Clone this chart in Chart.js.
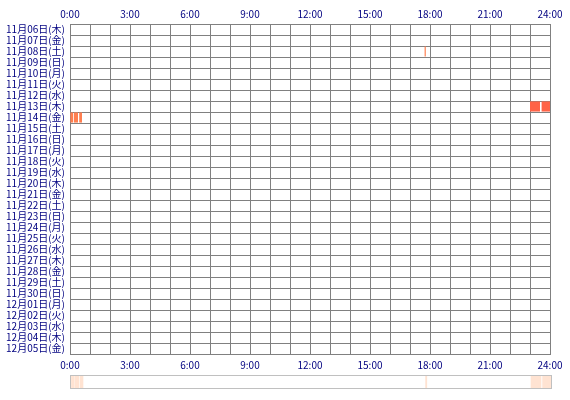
<!DOCTYPE html>
<html><head><meta charset="utf-8">
<script src="https://cdn.jsdelivr.net/npm/chart.js@4/dist/chart.umd.min.js"></script>
<style>
html,body{margin:0;padding:0;background:#fff;}
#main{position:absolute;left:0;top:0;width:570px;height:400px;}
#ovwrap{position:absolute;left:70px;top:375px;width:480px;height:12px;border:1px solid #c0c0c0;background:#fff;}
#ov{display:block;}
</style>
</head><body>
<div id="main"><canvas id="c" width="570" height="400"></canvas></div>
<div id="ovwrap"><canvas id="ov" width="480" height="12"></canvas></div>
<script>
const dayLabels = ["11月06日(木)","11月07日(金)","11月08日(土)","11月09日(日)","11月10日(月)","11月11日(火)","11月12日(水)","11月13日(木)","11月14日(金)","11月15日(土)","11月16日(日)","11月17日(月)","11月18日(火)","11月19日(水)","11月20日(木)","11月21日(金)","11月22日(土)","11月23日(日)","11月24日(月)","11月25日(火)","11月26日(水)","11月27日(木)","11月28日(金)","11月29日(土)","11月30日(日)","12月01日(月)","12月02日(火)","12月03日(水)","12月04日(木)","12月05日(金)"];
const hourTicks = [0,3,6,9,12,15,18,21,24];
const segDay   = ["11月08日(土)","11月13日(木)","11月13日(木)","11月14日(金)","11月14日(金)","11月14日(金)"];
const segStart = [17.73, 23.0, 23.58, 0.02, 0.2, 0.46];
const segEnd   = [17.79, 23.5, 24.0, 0.16, 0.4, 0.6];
const segColor = ["#FF7F50","#FF6347","#FF6347","#FF7F50","#FF7F50","#FF7F50"];

const navy = "#000080";
const tickFont = {family:"'Noto Sans CJK JP', 'DejaVu Sans', sans-serif", size:10};
const hourLabel = v => hourTicks.includes(v) ? v + ":00" : "";

const mainData = segDay.map((d,i)=>({x:[segStart[i], segEnd[i]], y:d}));

new Chart(document.getElementById('c'), {
  type:'bar',
  data:{labels:dayLabels, datasets:[{data:mainData, backgroundColor:segColor, borderWidth:0, barPercentage:1, categoryPercentage:0.92, xAxisID:'x', grouped:false}]},
  options:{
    indexAxis:'y', responsive:false, animation:false,
    layout:{padding:{left:0,right:20,top:0,bottom:26}},
    plugins:{legend:{display:false}, tooltip:{enabled:false}},
    scales:{
      x:{type:'linear', position:'top', min:0, max:24,
         ticks:{stepSize:1, autoSkip:false, maxRotation:0, color:navy, font:tickFont, padding:4, callback:hourLabel},
         grid:{color:'#808080', lineWidth:1, drawTicks:false},
         border:{color:'#808080'},
         afterFit:s=>{s.height=24;}},
      x2:{type:'linear', position:'bottom', min:0, max:24,
         ticks:{stepSize:1, autoSkip:false, maxRotation:0, color:navy, font:tickFont, padding:5, callback:hourLabel},
         grid:{display:false, drawTicks:false},
         border:{color:'#808080'},
         afterFit:s=>{s.height=20;}},
      y:{type:'category', labels:dayLabels,
         ticks:{color:navy, font:tickFont, padding:5, autoSkip:false},
         grid:{color:'#808080', lineWidth:1, drawTicks:false, offset:true},
         border:{color:'#808080'},
         afterFit:s=>{s.width=70;}}
    }
  }
});

const ovData = segDay.map((d,i)=>({x:[segStart[i], segEnd[i]], y:'all'}));
new Chart(document.getElementById('ov'), {
  type:'bar',
  data:{labels:['all'], datasets:[{data:ovData, backgroundColor:'#FFE3D2', borderWidth:0, barPercentage:1, categoryPercentage:1, grouped:false}]},
  options:{
    indexAxis:'y', responsive:false, animation:false,
    layout:{padding:0},
    plugins:{legend:{display:false}, tooltip:{enabled:false}},
    scales:{
      x:{type:'linear', min:0, max:24, display:false},
      y:{type:'category', display:false}
    }
  }
});
</script>
</body></html>
